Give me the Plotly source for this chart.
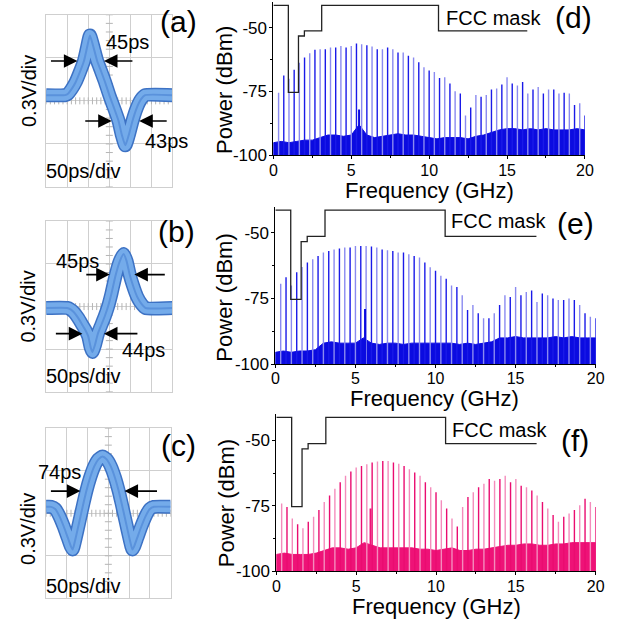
import plotly.graph_objects as go

W, H = 638, 631
FONT = "Liberation Sans, Arial, sans-serif"

# ---------------- oscilloscope traces (time in ps, amplitude in V) ----------------
t_a = [0, 45, 52, 60, 70, 80, 90, 97, 104, 111, 121, 130, 140, 150, 160, 172, 180, 188, 196, 205, 215, 225, 235, 300]
v_a = [0.04, 0.04, 0.05, 0.08, 0.13, 0.20, 0.28, 0.37, 0.455, 0.39, 0.28, 0.21, 0.13, 0.04, -0.04, -0.14, -0.24, -0.31, -0.24, -0.14, -0.05, 0.01, 0.04, 0.04]

t_b = [0, 50, 58, 66, 76, 86, 94, 100, 106, 110, 116, 123, 131, 139, 147, 155, 165, 175, 184, 191, 198, 206, 216, 226, 236, 300]
v_b = [-0.01, -0.01, -0.02, -0.04, -0.08, -0.13, -0.17, -0.21, -0.29, -0.32, -0.27, -0.19, -0.13, -0.07, 0.0, 0.09, 0.22, 0.32, 0.37, 0.32, 0.23, 0.15, 0.07, 0.02, -0.01, -0.01]

t_c = [0, 12, 22, 32, 42, 52, 60, 64, 70, 80, 90, 97, 106, 116, 126, 136, 146, 156, 166, 175, 182, 192, 202, 208, 212, 220, 230, 240, 250, 260, 300]
v_c = [0.045, 0.045, 0.03, -0.02, -0.09, -0.17, -0.235, -0.255, -0.19, -0.06, 0.07, 0.157, 0.25, 0.33, 0.38, 0.40,
       0.38, 0.33, 0.25, 0.157, 0.07, -0.06, -0.19, -0.255, -0.235, -0.17, -0.09, -0.02, 0.03, 0.045, 0.045]

# ---------------- spectra: comb lines at n/3 GHz ----------------
comb_n = list(range(1, 61))
comb_d = [-75.5, -68.7, -70.0, -66.5, -63.8, -61.7, -60.0, -58.7, -58.5, -58.5,
          -57.8, -57.8, -57.2, -57.8, -57.2, -56.2, -56.5, -56.9, -57.4, -58.5,
          -58.5, -57.8, -58.5, -59.7, -59.7, -61.0, -61.7, -63.6, -65.5, -66.8,
          -67.4, -69.7, -69.4, -71.9, -74.9, -75.8, -84.4, -81.2, -76.4, -77.0,
          -76.4, -74.2, -73.8, -72.3, -69.4, -71.9, -72.6, -71.3, -75.8, -74.2,
          -73.2, -75.8, -74.2, -74.2, -75.8, -75.5, -75.8, -80.3, -79.6, -84.4]
comb_e = [-69.4, -66.9, -70.0, -65.0, -63.0, -61.3, -60.0, -58.8, -57.5, -56.9,
          -56.3, -55.9, -55.6, -55.6, -55.0, -55.0, -55.0, -55.2, -55.6, -56.3,
          -56.6, -56.9, -57.5, -57.5, -58.1, -58.8, -59.4, -61.3, -63.1, -64.4,
          -66.3, -67.5, -70.0, -70.6, -73.8, -79.4, -77.5, -80.6, -82.5, -82.5,
          -80.6, -77.5, -73.8, -74.4, -70.6, -73.8, -72.5, -71.9, -76.3, -73.1,
          -73.8, -75.0, -75.6, -75.6, -75.0, -75.6, -77.5, -80.6, -81.9, -82.5]
comb_f = [-74.1, -75.4, -79.8, -82.0, -83.5, -81.0, -79.1, -76.6, -73.5, -71.0,
          -68.5, -66.0, -63.5, -61.9, -60.4, -59.8, -59.1, -58.5, -58.1, -57.9,
          -57.9, -58.5, -58.9, -59.8, -61.0, -62.3, -63.5, -66.0, -67.9, -69.8,
          -72.9, -76.0, -79.8, -82.9, -75.4, -71.6, -69.8, -67.9, -66.6, -64.8,
          -65.4, -64.8, -63.5, -66.0, -64.8, -67.3, -67.9, -69.1, -71.0, -73.5,
          -76.0, -78.5, -81.0, -79.1, -77.9, -76.6, -74.8, -72.3, -73.5, -75.4]

# noise floor, every 0.5 GHz from 0 to 20 GHz
floor_f = [i * 0.5 for i in range(41)]
floor_d = [-95, -94.5, -95, -94.5, -94, -94, -93, -92, -92, -92.5, -92, -88, -92, -93, -92.5, -92, -91.5,
           -92, -92, -92.5, -93, -93.5, -93, -93, -93, -93.5, -92.5, -92, -91, -90, -89.5, -89.5, -90,
           -89.5, -90, -89.5, -90, -90, -90, -89.5, -90]
floor_e = [-95.5, -95, -95.5, -95, -95, -94.5, -92, -91.5, -92, -92, -92, -90, -92, -92.5, -92, -92, -92.5,
           -92, -92, -92, -92, -92, -92, -92.5, -92, -92.5, -92, -91.5, -90, -90, -89.5, -90, -90,
           -90, -90, -89.5, -90, -89.5, -90, -90, -90]
floor_ff = [-93.5, -93, -93.5, -93.5, -93.5, -93, -92, -91, -91, -91.5, -91, -89, -90, -91, -91, -91, -91,
            -91, -91.5, -91.5, -92, -91.5, -91, -92, -92, -91.5, -91.5, -91, -90.5, -90, -90, -89.5, -89.5,
            -90, -90, -89.5, -89.5, -89, -89, -89, -89]

# spurs above the floor (GHz, dBm)
spur_d = ([5.5], [-82.0])
spur_e = ([5.6], [-79.0])
spur_f = ([5.9], [-76.0])

# FCC indoor UWB mask (GHz, dBm)
mask_f = [0, 0.96, 0.96, 1.61, 1.61, 1.99, 1.99, 3.1, 3.1, 10.6, 10.6, 16.3]
mask_p = [-41.3, -41.3, -75.3, -75.3, -53.3, -53.3, -51.3, -51.3, -41.3, -41.3, -51.3, -51.3]

y_ticks = [-100, -75, -50]
y_ticktext = ["-100", "-75", "-50"]
x_ticks = [0, 5, 10, 15, 20]


def px(x):
    return x / W


def py(y):
    return 1 - y / H


fig = go.Figure()
annotations = []

# ---------------- oscilloscope panels ----------------
osc_panels = [
    ("", t_a, v_a, (43, 172), (15, 190)),
    ("2", t_b, v_b, (43, 172), (225, 398)),
    ("3", t_c, v_c, (43, 170), (435, 608)),
]
layout_axes = {}
for suf, t, v, (x0, x1), (y0, y1) in osc_panels:
    xa, ya = "x" + suf, "y" + suf
    layout_axes["xaxis" + suf] = dict(domain=[px(x0), px(x1)], anchor=ya, range=[0, 300], dtick=50,
                                      showgrid=True, gridcolor="#cfcfcf", gridwidth=1, zeroline=False,
                                      showline=True, mirror=True, linecolor="#cfcfcf", linewidth=1,
                                      showticklabels=False, ticks="", fixedrange=True)
    layout_axes["yaxis" + suf] = dict(domain=[py(y1), py(y0)], anchor=xa, range=[-0.6, 0.6], dtick=0.3,
                                      showgrid=True, gridcolor="#cfcfcf", gridwidth=1, zeroline=False,
                                      showline=True, mirror=True, linecolor="#cfcfcf", linewidth=1,
                                      showticklabels=False, ticks="", fixedrange=True)
    # reticle minor ticks on centre lines
    fig.add_trace(go.Scatter(x=[i * 10 for i in range(31)], y=[0] * 31, mode="markers", xaxis=xa, yaxis=ya,
                             marker=dict(symbol="line-ns", size=5, line=dict(color="#b5b5b5", width=1)),
                             hoverinfo="skip", showlegend=False))
    fig.add_trace(go.Scatter(x=[150] * 21, y=[-0.6 + i * 0.06 for i in range(21)], mode="markers",
                             xaxis=xa, yaxis=ya,
                             marker=dict(symbol="line-ew", size=5, line=dict(color="#b5b5b5", width=1)),
                             hoverinfo="skip", showlegend=False))
    # persistence band: rim, light body, mid core
    for w, c in [(14, "#3d72c4"), (11, "#74abea"), (2, "#5a92dc")]:
        fig.add_trace(go.Scatter(x=t, y=v, mode="lines", xaxis=xa, yaxis=ya,
                                 line=dict(color=c, width=w, shape="spline", smoothing=0.5),
                                 hoverinfo="skip", showlegend=False))

# ---------------- spectrum panels ----------------
spec_panels = [
    ("4", comb_d, floor_d, spur_d, (275, 593), (2, 158), ("#1a1ae8", "#8a8af0", "#0b0be0")),
    ("5", comb_e, floor_e, spur_e, (277, 604), (210, 370), ("#1a1ae8", "#8a8af0", "#0b0be0")),
    ("6", comb_f, floor_ff, spur_f, (278, 604), (420.7, 580.7), ("#ea0c70", "#f48cbc", "#ee1277")),
]
for suf, comb, floor, spur, (x0, x1), (y0, y1), (c_dark, c_light, c_floor) in spec_panels:
    xa, ya = "x" + suf, "y" + suf
    layout_axes["xaxis" + suf] = dict(domain=[px(x0), px(x1)], anchor=ya, range=[0, 20], tickvals=x_ticks,
                                      showgrid=False, zeroline=False, showline=True, linecolor="black",
                                      linewidth=1, ticks="outside", ticklen=3, tickcolor="black",
                                      ticklabelstandoff=-3,
                                      minor=dict(dtick=2.5, ticks="outside", ticklen=2, tickcolor="black"),
                                      tickfont=dict(family=FONT, size=16, color="black"), fixedrange=True)
    layout_axes["yaxis" + suf] = dict(domain=[py(y1), py(y0)], anchor=xa, range=[-100, -40],
                                      tickvals=y_ticks, ticktext=y_ticktext,
                                      showgrid=False, zeroline=False, showline=True, linecolor="black",
                                      linewidth=1, ticks="outside", ticklen=3, tickcolor="black",
                                      ticklabelstandoff=-1,
                                      minor=dict(tickvals=[-87.5, -62.5], ticks="outside", ticklen=2,
                                                 tickcolor="black"),
                                      tickfont=dict(family=FONT, size=17, color="black"), fixedrange=True)
    # noise floor
    fig.add_trace(go.Scatter(x=[0] + floor_f + [20], y=[-100] + floor + [-100], mode="lines", fill="toself",
                             fillcolor=c_floor, line=dict(color=c_floor, width=1), xaxis=xa, yaxis=ya,
                             hoverinfo="skip", showlegend=False))
    # comb lines (alternating shades)
    for parity, col in [(1, c_light), (0, c_dark)]:
        xs, ys = [], []
        for n, p in zip(comb_n, comb):
            if n % 2 == parity:
                xs += [n / 3, n / 3, None]
                ys += [-100, p, None]
        fig.add_trace(go.Scatter(x=xs, y=ys, mode="lines", line=dict(color=col, width=1.4),
                                 xaxis=xa, yaxis=ya, hoverinfo="skip", showlegend=False))
    sx, sy = [], []
    for f, p in zip(*spur):
        sx += [f, f, None]
        sy += [-100, p, None]
    fig.add_trace(go.Scatter(x=sx, y=sy, mode="lines", line=dict(color=c_floor, width=2),
                             xaxis=xa, yaxis=ya, hoverinfo="skip", showlegend=False))
    # FCC mask
    fig.add_trace(go.Scatter(x=mask_f, y=mask_p, mode="lines", line=dict(color="#222222", width=1.3),
                             xaxis=xa, yaxis=ya, hoverinfo="skip", showlegend=False))


def text(s, x, y, size, angle=0, xanchor="center"):
    annotations.append(dict(text=s, x=px(x), y=py(y), xref="paper", yref="paper", showarrow=False,
                            xanchor=xanchor, yanchor="middle", textangle=angle, borderpad=0,
                            font=dict(family=FONT, size=size, color="black")))


def arrow(tip_x, tail_x, y):
    annotations.append(dict(text="", x=px(tip_x), y=py(y), xref="paper", yref="paper", showarrow=True,
                            ax=tail_x - tip_x, ay=0, arrowhead=2, arrowsize=1.7, arrowwidth=1.6,
                            arrowcolor="black", standoff=0))


# (a)
text("45ps", 126, 43, 20)
text("43ps", 166, 143, 20)
text("50ps/div", 81, 174, 20)
text("0.3V/div", 25, 92, 20, angle=-90)
text("(a)", 178, 22, 30)
arrow(75, 47, 62)
arrow(102, 132, 62)
arrow(110, 82, 123)
arrow(138, 167, 123)
# (b)
text("45ps", 75, 265, 20)
text("44ps", 142, 356, 20)
text("50ps/div", 81, 382, 20)
text("0.3V/div", 25, 311, 20, angle=-90)
text("(b)", 176, 235, 30)
arrow(108, 83, 279)
arrow(133, 165, 279)
arrow(80, 52, 339)
arrow(102, 137, 339)
# (c)
text("74ps", 57, 480, 20)
text("50ps/div", 81, 595, 20)
text("0.3V/div", 25, 537, 20, angle=-90)
text("(c)", 178, 453, 30)
arrow(78, 47, 499)
arrow(123, 157, 499)
# (d)
text("FCC mask", 500, 18, 20)
text("(d)", 581, 18, 30)
text("Power (dBm)", 225, 91, 22, angle=-90)
text("Frequency (GHz)", 434, 194, 22)
# (e)
text("FCC mask", 505, 225, 20)
text("(e)", 583, 227, 30)
text("Power (dBm)", 225, 302, 22, angle=-90)
text("Frequency (GHz)", 439, 405, 22)
# (f)
text("FCC mask", 506, 437, 20)
text("(f)", 583, 448, 30)
text("Power (dBm)", 228, 511, 22, angle=-90)
text("Frequency (GHz)", 441, 616, 22)

fig.update_layout(width=W, height=H, autosize=False, margin=dict(l=0, r=0, t=0, b=0),
                  paper_bgcolor="white", plot_bgcolor="white", showlegend=False,
                  font=dict(family=FONT, color="black"), annotations=annotations, **layout_axes)

fig.write_html("out.html", config={"displayModeBar": False})

# remove the browser's default page margin so the 638x631 figure fills the window exactly
with open("out.html", "r", encoding="utf-8") as fh:
    html = fh.read()
html = html.replace("<head>", "<head><style>html,body{margin:0;padding:0;overflow:hidden;}</style>", 1)
with open("out.html", "w", encoding="utf-8") as fh:
    fh.write(html)
